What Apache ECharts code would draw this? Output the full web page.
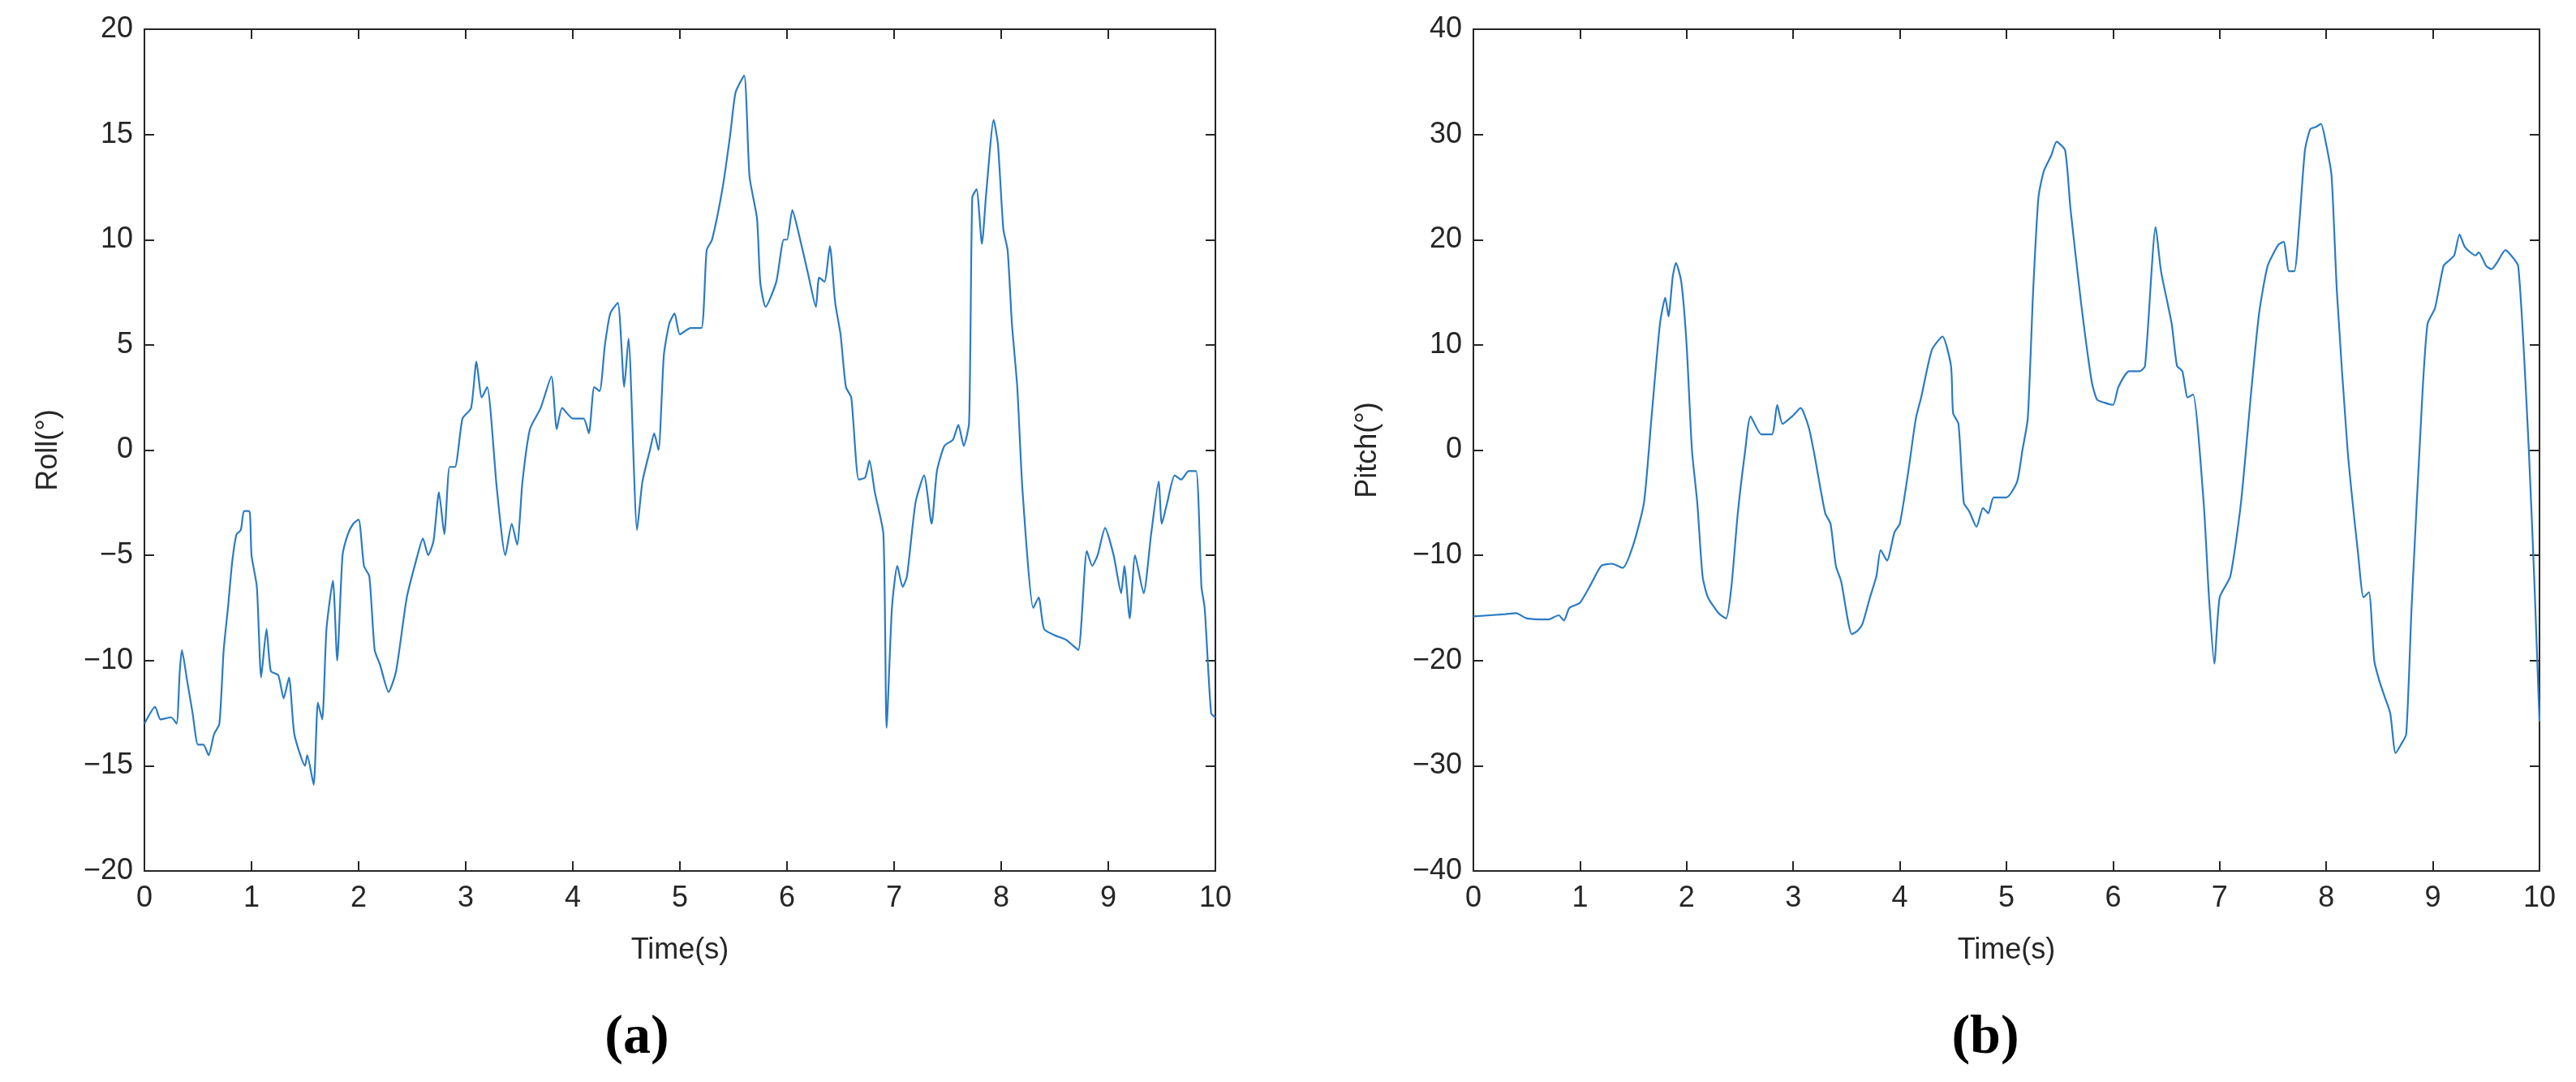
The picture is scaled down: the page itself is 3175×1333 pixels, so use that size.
<!DOCTYPE html>
<html><head><meta charset="utf-8">
<script src="https://cdn.jsdelivr.net/npm/echarts@6/dist/echarts.min.js"></script>
<style>html,body{margin:0;padding:0;background:#fff}#c{width:3175px;height:1333px}</style>
</head><body><div id="c"></div>
<script>
const rollData = [[0,-13],[0.1,-12.2],[0.15,-12.8],[0.25,-12.7],[0.3,-13],[0.33,-10.5],[0.35,-9.5],[0.4,-11],[0.45,-12.5],[0.5,-14],[0.55,-14],[0.6,-14.5],[0.65,-13.5],[0.7,-13],[0.74,-9.5],[0.78,-7.5],[0.82,-5.3],[0.86,-4],[0.9,-3.8],[0.93,-2.9],[0.98,-2.9],[1.0,-5],[1.05,-6.5],[1.09,-10.8],[1.14,-8.5],[1.18,-10.5],[1.25,-10.7],[1.3,-11.8],[1.35,-10.8],[1.4,-13.5],[1.5,-15],[1.52,-14.5],[1.58,-15.9],[1.62,-12],[1.66,-12.8],[1.7,-8.5],[1.76,-6.2],[1.8,-10],[1.85,-5],[1.9,-4],[1.95,-3.5],[2.0,-3.3],[2.05,-5.5],[2.1,-6],[2.15,-9.5],[2.2,-10.2],[2.28,-11.5],[2.35,-10.5],[2.45,-7],[2.55,-5],[2.6,-4.2],[2.65,-5],[2.7,-4.3],[2.75,-2],[2.8,-4],[2.85,-0.8],[2.9,-0.8],[2.97,1.5],[3.05,2],[3.1,4.2],[3.15,2.5],[3.2,3],[3.29,-1.8],[3.37,-5],[3.43,-3.5],[3.48,-4.5],[3.53,-1.5],[3.6,1.0],[3.7,2],[3.8,3.5],[3.85,1],[3.9,2],[4.0,1.5],[4.1,1.5],[4.15,0.8],[4.2,3],[4.25,2.8],[4.3,5],[4.35,6.5],[4.42,7],[4.48,3],[4.52,5.3],[4.6,-3.8],[4.65,-1.5],[4.72,0],[4.76,0.8],[4.8,0],[4.85,4.5],[4.9,6],[4.95,6.5],[5.0,5.5],[5.1,5.8],[5.2,5.8],[5.25,9.5],[5.3,10],[5.4,12.5],[5.47,15],[5.52,17],[5.6,17.8],[5.65,13],[5.72,11],[5.75,8],[5.8,6.8],[5.9,8],[5.97,10],[6.0,10],[6.05,11.4],[6.1,10.5],[6.2,8.3],[6.27,6.8],[6.3,8.2],[6.35,8],[6.4,9.7],[6.45,7],[6.5,5.5],[6.55,3],[6.6,2.5],[6.67,-1.4],[6.73,-1.3],[6.77,-0.5],[6.82,-2],[6.9,-4],[6.93,-13.2],[6.98,-7.5],[7.03,-5.5],[7.08,-6.5],[7.12,-6],[7.2,-2.5],[7.28,-1.2],[7.35,-3.5],[7.4,-1.0],[7.47,0.2],[7.55,0.5],[7.6,1.2],[7.65,0.2],[7.7,1.3],[7.73,12],[7.77,12.4],[7.82,9.8],[7.86,12.2],[7.93,15.7],[7.97,14.5],[8.02,10.5],[8.06,9.5],[8.1,6],[8.15,3],[8.2,-2],[8.3,-7.5],[8.35,-7],[8.4,-8.5],[8.5,-8.8],[8.6,-9],[8.65,-9.2],[8.72,-9.5],[8.8,-4.8],[8.85,-5.5],[8.9,-5],[8.97,-3.7],[9.05,-5],[9.12,-6.8],[9.15,-5.5],[9.2,-8],[9.25,-5],[9.33,-6.8],[9.4,-4],[9.47,-1.5],[9.5,-3.5],[9.55,-2.5],[9.62,-1.2],[9.68,-1.4],[9.75,-1],[9.82,-1],[9.87,-6.5],[9.9,-7.5],[9.96,-12.5],[10,-12.7]];
const pitchData = [[0,-15.8],[0.3,-15.6],[0.4,-15.5],[0.5,-16],[0.7,-16.1],[0.8,-15.7],[0.85,-16.2],[0.9,-15],[1.0,-14.5],[1.1,-12.8],[1.2,-11],[1.3,-10.8],[1.4,-11.2],[1.5,-9],[1.6,-5],[1.67,3],[1.75,12],[1.8,14.5],[1.83,12.7],[1.87,16.5],[1.9,17.8],[1.95,16],[2.0,10],[2.05,0],[2.1,-5],[2.15,-12],[2.2,-14],[2.3,-15.5],[2.37,-16],[2.42,-13],[2.48,-6],[2.55,0],[2.6,3.2],[2.7,1.5],[2.8,1.5],[2.85,4.3],[2.9,2.5],[3.0,3.3],[3.07,4],[3.1,3.5],[3.15,2],[3.2,-0.5],[3.3,-6],[3.35,-7],[3.4,-11],[3.45,-12.5],[3.55,-17.5],[3.6,-17.2],[3.65,-16.5],[3.72,-14],[3.78,-12],[3.82,-9.5],[3.88,-10.5],[3.95,-7.8],[4.0,-7],[4.08,-2],[4.15,3],[4.2,5],[4.3,9.5],[4.4,10.8],[4.48,8],[4.5,3.5],[4.55,2.5],[4.6,-5],[4.65,-5.8],[4.72,-7.3],[4.78,-5.5],[4.83,-6],[4.88,-4.5],[5.0,-4.5],[5.1,-3],[5.15,0],[5.2,3],[5.25,15],[5.3,24],[5.35,26.5],[5.42,28],[5.47,29.3],[5.55,28.5],[5.6,23],[5.7,14],[5.8,6.5],[5.85,4.8],[5.92,4.5],[6.0,4.3],[6.05,6],[6.15,7.5],[6.25,7.5],[6.3,8],[6.4,21.2],[6.45,17],[6.55,12],[6.6,8],[6.65,7.5],[6.7,5],[6.75,5.3],[6.85,-5],[6.9,-14],[6.95,-20.3],[7.0,-14],[7.1,-12],[7.2,-5],[7.3,6],[7.37,13],[7.45,17.5],[7.55,19.5],[7.6,19.8],[7.65,17],[7.7,17],[7.75,22],[7.8,28.5],[7.85,30.5],[7.9,30.7],[7.95,31],[8.0,29],[8.05,26],[8.1,15],[8.2,0],[8.3,-10],[8.35,-14],[8.4,-13.5],[8.45,-20],[8.5,-22],[8.55,-23.5],[8.6,-25],[8.65,-28.8],[8.7,-28],[8.75,-27],[8.8,-15],[8.9,5],[8.95,12],[9.02,13.5],[9.1,17.5],[9.15,18],[9.2,18.5],[9.25,20.5],[9.3,19.3],[9.4,18.5],[9.43,18.8],[9.5,17.5],[9.55,17.2],[9.6,17.8],[9.68,19],[9.75,18.3],[9.8,17.5],[9.85,10],[9.9,0],[9.95,-12],[10,-25.8]];
const xTicks = [0,10,1];
const rollRange = [-20,20,5];
const pitchRange = [-40,40,10];

const font = 'Arial, "Liberation Sans", sans-serif';
const txt = {color:'#262626', fontSize:36, fontFamily:font};
function fmt(v){ return v<0 ? '\u2212'+(-v) : String(v); }
const grids = [
  {left:178, top:36, width:1320, height:1037},
  {left:1816, top:36, width:1314, height:1037}
];
const xAxis=[], yAxis=[];
const ranges=[rollRange,pitchRange], names=['Roll(°)','Pitch(°)'];
for(let i=0;i<2;i++){
  const line={show:true,onZero:false,lineStyle:{color:'#262626',width:2}};
  const tick={show:true,inside:true,length:12,lineStyle:{color:'#262626',width:2}};
  xAxis.push({type:'value',gridIndex:i,min:xTicks[0],max:xTicks[1],interval:xTicks[2],position:'bottom',
    name:'Time(s)',nameLocation:'middle',nameGap:80,nameTextStyle:txt,
    axisLine:line,axisTick:tick,axisLabel:Object.assign({margin:16,formatter:fmt},txt),splitLine:{show:false}});
  xAxis.push({type:'value',gridIndex:i,min:xTicks[0],max:xTicks[1],interval:xTicks[2],position:'top',
    axisLine:line,axisTick:tick,axisLabel:{show:false},splitLine:{show:false}});
  yAxis.push({type:'value',gridIndex:i,min:ranges[i][0],max:ranges[i][1],interval:ranges[i][2],position:'left',
    name:names[i],nameLocation:'middle',nameGap:i===0?100:112,nameTextStyle:txt,
    axisLine:line,axisTick:tick,axisLabel:Object.assign({margin:14,formatter:fmt},txt),splitLine:{show:false}});
  yAxis.push({type:'value',gridIndex:i,min:ranges[i][0],max:ranges[i][1],interval:ranges[i][2],position:'right',
    axisLine:line,axisTick:tick,axisLabel:{show:false},splitLine:{show:false}});
}
const lineStyle={color:'#2b7bc4',width:2.2};
const chart=echarts.init(document.getElementById('c'));
chart.setOption({
  animation:false,
  grid:grids, xAxis:xAxis, yAxis:yAxis,
  title:[
    {text:'(a)',left:780,top:1240,textAlign:'center',textStyle:{fontFamily:'"Liberation Serif","DejaVu Serif",serif',fontWeight:'bold',fontSize:68,color:'#000'}},
    {text:'(b)',left:2442,top:1240,textAlign:'center',textStyle:{fontFamily:'"Liberation Serif","DejaVu Serif",serif',fontWeight:'bold',fontSize:68,color:'#000'}}
  ],
  series:[
    {type:'line',xAxisIndex:0,yAxisIndex:0,data:rollData,showSymbol:false,smooth:0.2,lineStyle:lineStyle},
    {type:'line',xAxisIndex:2,yAxisIndex:2,data:pitchData,showSymbol:false,smooth:0.2,lineStyle:lineStyle},
    {type:'line',xAxisIndex:1,yAxisIndex:1,data:[],showSymbol:false},
    {type:'line',xAxisIndex:3,yAxisIndex:3,data:[],showSymbol:false}
  ]
});
</script></body></html>
